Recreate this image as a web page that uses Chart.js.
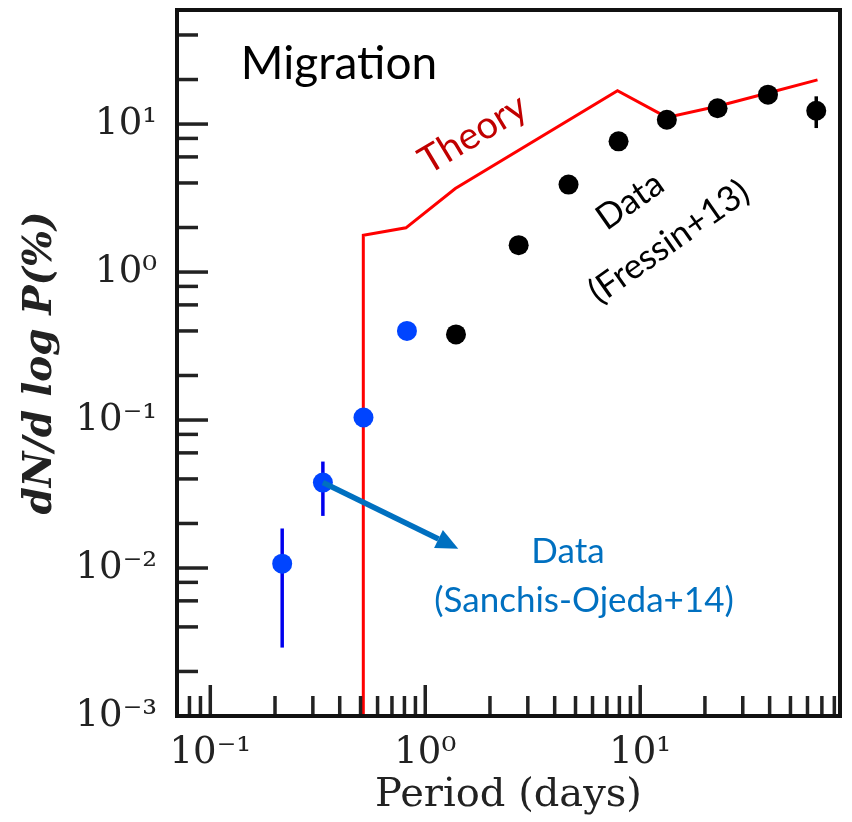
<!DOCTYPE html>
<html>
<head>
<meta charset="utf-8">
<script src="https://cdn.jsdelivr.net/npm/chart.js@4.4.1/dist/chart.umd.min.js"></script>
<style>
  html, body { margin: 0; padding: 0; background: #fff; }
  #wrap { width: 852px; height: 822px; }
</style>
</head>
<body>
<div id="wrap"><canvas id="periodChart"></canvas></div>
<script>
// Sanchis-Ojeda+14 (blue points)
const sanchisPeriod = [0.216, 0.334, 0.516, 0.822];
const sanchisRate = [0.0107, 0.0378, 0.104, 0.40];
const sanchisLow = [0.0029, 0.0225, null, null];
const sanchisHigh = [0.0185, 0.0524, null, null];

// Fressin+13 (black points)
const fressinPeriod = [1.39, 2.72, 4.64, 7.93, 13.3, 22.9, 39.3, 65.9];
const fressinRate = [0.379, 1.52, 3.90, 7.64, 10.7, 12.8, 15.8, 12.3];
const fressinLow = [null, null, null, null, null, null, null, 9.4];
const fressinHigh = [null, null, null, null, null, null, null, 15.4];

// migration theory curve
const theoryPeriod = [0.515, 0.515, 0.813, 1.38, 7.84, 13.3, 22.9, 39.3, 66.8];
const theoryRate = [0.0001, 1.77, 1.99, 3.67, 16.8, 11.1, 13.2, 16.2, 19.9];

// axis ticks
const xTicks = [0.1, 1, 10];
const yTicks = [0.001, 0.01, 0.1, 1, 10];
const yMinorSubs = [2, 4, 6, 8];
const xMinorSubs = [2, 3, 4, 5, 6, 7, 8, 9];

// arrow from the second blue point to the label
const arrowTip = { x: 1.424, y: 0.0135 };

const SUP = { '-': '\u207B', '0': '\u2070', '1': '\u00B9', '2': '\u00B2', '3': '\u00B3' };
function pow10Label(v) {
    const e = String(Math.round(Math.log10(v)));
    return '10' + e.split('').map(c => SUP[c]).join('');
}

function minorValues(min, max, subs) {
    const out = [];
    for (let d = -4; d <= 3; d++) {
        subs.forEach(m => {
            const v = m * Math.pow(10, d);
            if (v > min && v < max) out.push(v);
        });
    }
    return out;
}

function drawText(ctx, txt, x, y, angle, font, color) {
    ctx.save();
    ctx.translate(x, y);
    ctx.rotate(angle * Math.PI / 180);
    ctx.font = font;
    ctx.fillStyle = color;
    ctx.textAlign = 'center';
    ctx.textBaseline = 'middle';
    ctx.fillText(txt, 0, 0);
    ctx.restore();
}

const axisDecor = {
    id: 'axisDecor',
    beforeDatasetsDraw(chart) {
        const { ctx, scales: { x, y } } = chart;
        ctx.save();
        ctx.lineWidth = 3.5;
        ctx.strokeStyle = '#0000ee';
        sanchisPeriod.forEach((p, i) => {
            if (sanchisLow[i] == null) return;
            const px = x.getPixelForValue(p);
            ctx.beginPath();
            ctx.moveTo(px, y.getPixelForValue(sanchisLow[i]));
            ctx.lineTo(px, y.getPixelForValue(sanchisHigh[i]));
            ctx.stroke();
        });
        ctx.strokeStyle = '#000';
        fressinPeriod.forEach((p, i) => {
            if (fressinLow[i] == null) return;
            const px = x.getPixelForValue(p);
            ctx.beginPath();
            ctx.moveTo(px, y.getPixelForValue(fressinLow[i]));
            ctx.lineTo(px, y.getPixelForValue(fressinHigh[i]));
            ctx.stroke();
        });
        ctx.restore();
    },
    afterDraw(chart) {
        const { ctx, chartArea: a, scales: { x, y } } = chart;
        ctx.save();

        // inward tick marks
        ctx.strokeStyle = '#222';
        ctx.lineWidth = 3.5;
        const tick = (x1, y1, x2, y2) => { ctx.beginPath(); ctx.moveTo(x1, y1); ctx.lineTo(x2, y2); ctx.stroke(); };
        yTicks.forEach(v => { const py = y.getPixelForValue(v); tick(a.left, py, a.left + 31, py); });
        minorValues(y.min, y.max, yMinorSubs).forEach(v => { const py = y.getPixelForValue(v); tick(a.left, py, a.left + 21, py); });
        xTicks.forEach(v => { const px = x.getPixelForValue(v); tick(px, a.bottom, px, a.bottom - 31); });
        minorValues(x.min, x.max, xMinorSubs).forEach(v => { const px = x.getPixelForValue(v); tick(px, a.bottom, px, a.bottom - 20); });

        // frame
        ctx.lineWidth = 4;
        ctx.strokeStyle = '#111';
        ctx.strokeRect(a.left, a.top, a.right - a.left, a.bottom - a.top);

        // arrow
        const x0 = x.getPixelForValue(sanchisPeriod[1]), y0 = y.getPixelForValue(sanchisRate[1]);
        const x1 = x.getPixelForValue(arrowTip.x), y1 = y.getPixelForValue(arrowTip.y);
        const ang = Math.atan2(y1 - y0, x1 - x0);
        const head = 22, half = 10;
        const bx = x1 - head * Math.cos(ang), by = y1 - head * Math.sin(ang);
        ctx.strokeStyle = '#0070c0';
        ctx.fillStyle = '#0070c0';
        ctx.lineWidth = 5.5;
        ctx.beginPath(); ctx.moveTo(x0, y0); ctx.lineTo(bx, by); ctx.stroke();
        ctx.beginPath();
        ctx.moveTo(x1, y1);
        ctx.lineTo(bx + half * Math.sin(ang), by - half * Math.cos(ang));
        ctx.lineTo(bx - half * Math.sin(ang), by + half * Math.cos(ang));
        ctx.closePath();
        ctx.fill();

        // annotations
        drawText(ctx, 'Migration', 339, 64, 0, '46px Lato', '#000');
        drawText(ctx, 'Theory', 473, 134, -31, '38px Lato', '#c00000');
        drawText(ctx, 'Data', 630, 201, -35, '35px Lato', '#000');
        drawText(ctx, '(Fressin+13)', 669, 242, -35, '35px Lato', '#000');
        drawText(ctx, 'Data', 568, 552, 0, '35px Lato', '#0070c0');
        drawText(ctx, '(Sanchis-Ojeda+14)', 584, 601, 0, '35px Lato', '#0070c0');

        ctx.restore();
    }
};

const ctx = document.getElementById('periodChart').getContext('2d');

new Chart(ctx, {
    type: 'scatter',
    data: {
        datasets: [{
            label: 'Data (Sanchis-Ojeda+14)',
            data: sanchisPeriod.map((p, i) => ({ x: p, y: sanchisRate[i] })),
            backgroundColor: '#0044ff',
            borderWidth: 0,
            pointRadius: 10
        }, {
            label: 'Data (Fressin+13)',
            data: fressinPeriod.map((p, i) => ({ x: p, y: fressinRate[i] })),
            backgroundColor: '#000',
            borderWidth: 0,
            pointRadius: 10
        }, {
            type: 'line',
            label: 'Theory',
            data: theoryPeriod.map((p, i) => ({ x: p, y: theoryRate[i] })),
            borderColor: '#ff0000',
            borderWidth: 3,
            pointRadius: 0,
            fill: false,
            tension: 0
        }]
    },
    options: {
        responsive: true,
        maintainAspectRatio: false,
        animation: false,
        layout: { padding: { top: 9, right: 12, left: 0, bottom: 0 } },
        plugins: {
            legend: { display: false },
            tooltip: { enabled: false }
        },
        scales: {
            x: {
                type: 'logarithmic',
                min: 0.07,
                max: 85,
                grid: { display: false, drawTicks: false },
                border: { display: false },
                afterBuildTicks: function (s) { s.ticks = xTicks.map(v => ({ value: v, major: true })); },
                afterFit: function (s) { s.height = 106; s.paddingLeft = 0; s.paddingRight = 0; },
                ticks: {
                    autoSkip: false,
                    maxRotation: 0,
                    padding: 15,
                    color: '#222',
                    font: { family: 'DejaVu Serif', size: 37 },
                    callback: function (value) { return pow10Label(value); }
                },
                title: {
                    display: true,
                    text: 'Period (days)',
                    color: '#222',
                    font: { family: 'DejaVu Serif', size: 40 },
                    padding: { top: 0, bottom: 2 }
                }
            },
            y: {
                type: 'logarithmic',
                min: 0.001,
                max: 59,
                grid: { display: false, drawTicks: false },
                border: { display: false },
                afterBuildTicks: function (s) { s.ticks = yTicks.map(v => ({ value: v, major: true })); },
                afterFit: function (s) { s.width = 177; s.paddingTop = 0; s.paddingBottom = 0; },
                ticks: {
                    autoSkip: false,
                    padding: 20,
                    color: '#222',
                    font: { family: 'DejaVu Serif', size: 37 },
                    callback: function (value) { return pow10Label(value); }
                },
                title: {
                    display: true,
                    text: 'dN/d log P(%)',
                    color: '#222',
                    font: { family: 'DejaVu Serif', size: 39, style: 'italic', weight: 'bold' },
                    padding: { top: 17, bottom: 0 }
                }
            }
        }
    },
    plugins: [axisDecor]
});
</script>
</body>
</html>
